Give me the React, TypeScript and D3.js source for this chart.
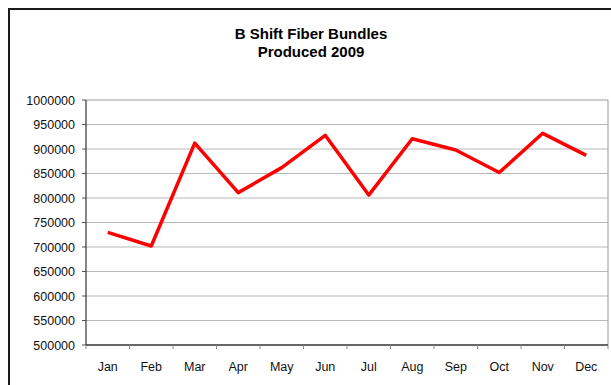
import React from "react";
import * as d3 from "d3";

const months = ["Jan", "Feb", "Mar", "Apr", "May", "Jun", "Jul", "Aug", "Sep", "Oct", "Nov", "Dec"];
const bundles = [730000, 702000, 912000, 811000, 862000, 928000, 806000, 921000, 898000, 852000, 932000, 887000];
const yTicks = [500000, 550000, 600000, 650000, 700000, 750000, 800000, 850000, 900000, 950000, 1000000];
const titleLines = ["B Shift Fiber Bundles", "Produced 2009"];

const W = 611;
const H = 385;
const plot = { left: 86, top: 100, right: 608, bottom: 345 };
const font = "'Liberation Sans', Arial, sans-serif";

export default function App() {
  const x = d3.scaleBand<string>().domain(months).range([plot.left, plot.right]);
  const y = d3.scaleLinear().domain([500000, 1000000]).range([plot.bottom, plot.top]);
  const line = d3
    .line<number>()
    .x((_, i) => (x(months[i]) as number) + x.bandwidth() / 2)
    .y((d) => y(d));
  const boundaries = months.map((m) => x(m) as number).concat([plot.right]);

  return (
    <svg
      width={W}
      height={H}
      style={{ position: "absolute", left: 0, top: 0, background: "#fff" }}
    >
      <rect x={9} y={9} width={W + 20} height={H + 20} fill="#fff" stroke="#1a1a1a" strokeWidth={2} />
      {titleLines.map((t, i) => (
        <text
          key={t}
          x={311}
          y={39 + i * 18}
          textAnchor="middle"
          fontFamily={font}
          fontWeight="bold"
          fontSize={15}
          fill="#000"
        >
          {t}
        </text>
      ))}
      {yTicks.map((v) => (
        <g key={v}>
          {v > 500000 && v < 1000000 && (
            <line x1={plot.left} x2={plot.right} y1={y(v)} y2={y(v)} stroke="#b8b8b8" strokeWidth={1} />
          )}
          <line x1={plot.left - 4} x2={plot.left} y1={y(v)} y2={y(v)} stroke="#555" strokeWidth={1} />
          <text
            x={plot.left - 11}
            y={y(v)}
            dy="0.36em"
            textAnchor="end"
            fontFamily={font}
            fontSize={12.5}
            fill="#111"
          >
            {v}
          </text>
        </g>
      ))}
      <line x1={plot.left} x2={plot.right} y1={plot.top} y2={plot.top} stroke="#999" strokeWidth={1} />
      <line x1={plot.right} x2={plot.right} y1={plot.top} y2={plot.bottom} stroke="#999" strokeWidth={1} />
      <line x1={plot.left} x2={plot.left} y1={plot.top} y2={plot.bottom} stroke="#333" strokeWidth={1.2} />
      <line x1={plot.left} x2={plot.right} y1={plot.bottom} y2={plot.bottom} stroke="#333" strokeWidth={1.5} />
      {boundaries.map((bx, i) => (
        <line key={i} x1={bx} x2={bx} y1={plot.bottom} y2={plot.bottom + 4} stroke="#888" strokeWidth={1} />
      ))}
      {months.map((m) => (
        <text
          key={m}
          x={(x(m) as number) + x.bandwidth() / 2}
          y={371}
          textAnchor="middle"
          fontFamily={font}
          fontSize={12.5}
          fill="#111"
        >
          {m}
        </text>
      ))}
      <path
        d={line(bundles) || ""}
        fill="none"
        stroke="#ff0000"
        strokeWidth={3.5}
        strokeLinejoin="round"
        strokeLinecap="butt"
      />
    </svg>
  );
}
